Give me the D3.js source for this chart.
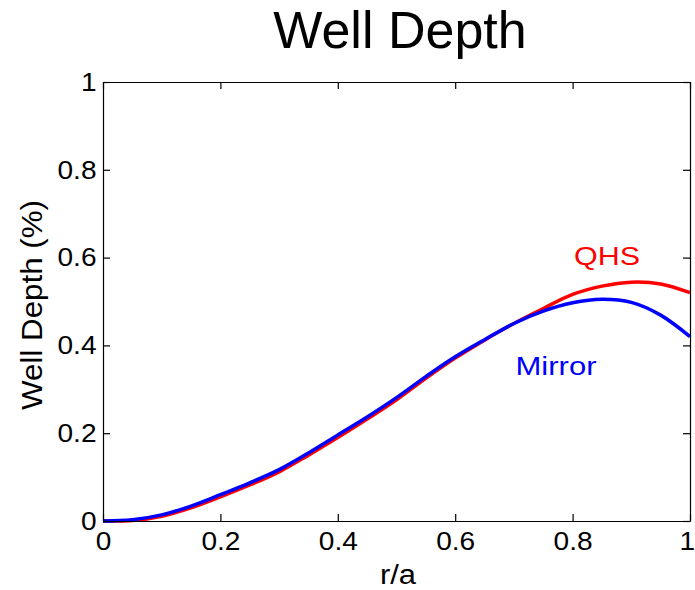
<!DOCTYPE html>
<html>
<head>
<meta charset="utf-8">
<script src="https://cdnjs.cloudflare.com/ajax/libs/d3/7.8.5/d3.min.js"></script>
<style>
  body { margin: 0; background: #fff; }
  svg text { font-family: "Liberation Sans", Arial, sans-serif; fill: #000; }
</style>
</head>
<body>
<div id="chart"></div>
<script>
(function (d3) {
    'use strict';

    // r/a sample points
    var radius = [0, 0.05, 0.1, 0.15, 0.2, 0.25, 0.3, 0.35, 0.4, 0.45, 0.5,
                  0.55, 0.6, 0.65, 0.7, 0.75, 0.8, 0.85, 0.9, 0.95, 1.0];
    var qhsDepth = [0, 0.001, 0.011, 0.03, 0.055, 0.082, 0.112, 0.15, 0.19, 0.232, 0.276,
                    0.325, 0.371, 0.412, 0.45, 0.484, 0.516, 0.535, 0.544, 0.54, 0.52];
    var mirrorDepth = [0, 0.003, 0.014, 0.034, 0.06, 0.087, 0.117, 0.155, 0.196, 0.237, 0.281,
                       0.329, 0.374, 0.413, 0.45, 0.478, 0.497, 0.505, 0.498, 0.469, 0.42];
    var tickValues = [0, 0.2, 0.4, 0.6, 0.8, 1];

    var width = 695,
        height = 590,
        margin = {top: 82, right: 5, bottom: 69, left: 103},
        tickLen = 7;

    var svg = d3.select('#chart').append('svg')
        .attr('width', width)
        .attr('height', height);

    var x = d3.scaleLinear().domain([0, 1]).range([margin.left, width - margin.right]);
    var y = d3.scaleLinear().domain([0, 1]).range([height - margin.bottom, margin.top]);

    var fmt = function (d) { return d === 0 || d === 1 ? String(d) : d.toFixed(1); };

    // lines
    var line = function (vals) {
        return d3.line()
            .x(function (d, i) { return x(radius[i]); })
            .y(function (d) { return y(d); })
            .curve(d3.curveCatmullRom.alpha(0.5))(vals);
    };

    svg.append('path')
        .attr('d', line(qhsDepth))
        .attr('fill', 'none')
        .attr('stroke', '#ff0000')
        .attr('stroke-width', 3.5);

    svg.append('path')
        .attr('d', line(mirrorDepth))
        .attr('fill', 'none')
        .attr('stroke', '#0000ff')
        .attr('stroke-width', 3.5);

    // axes: ticks point inward, box on all four sides
    var gBottom = svg.append('g')
        .attr('transform', 'translate(0,' + y(0) + ')')
        .call(d3.axisBottom(x).tickValues(tickValues).tickFormat(fmt).tickSizeInner(-tickLen).tickSizeOuter(0).tickPadding(11));
    var gTop = svg.append('g')
        .attr('transform', 'translate(0,' + y(1) + ')')
        .call(d3.axisTop(x).tickValues(tickValues).tickFormat('').tickSizeInner(-tickLen).tickSizeOuter(0));
    var gLeft = svg.append('g')
        .attr('transform', 'translate(' + x(0) + ',0)')
        .call(d3.axisLeft(y).tickValues(tickValues).tickFormat(fmt).tickSizeInner(-tickLen).tickSizeOuter(0).tickPadding(6));
    var gRight = svg.append('g')
        .attr('transform', 'translate(' + x(1) + ',0)')
        .call(d3.axisRight(y).tickValues(tickValues).tickFormat('').tickSizeInner(-tickLen).tickSizeOuter(0));

    [gBottom, gTop, gLeft, gRight].forEach(function (g) {
        g.select('.domain').attr('stroke', '#000').attr('stroke-width', 1.2);
        g.selectAll('.tick line').attr('stroke', '#000').attr('stroke-width', 1.2);
        g.selectAll('.tick text')
            .style('font-family', '"Liberation Sans", Arial, sans-serif')
            .style('font-size', '26px')
            .attr('transform', 'scale(1.08,1)');
    });
    // keep the last x label inside the frame
    gBottom.selectAll('.tick text')
        .filter(function (d) { return d === 1; })
        .attr('x', -3);

    // title and axis labels
    svg.append('text')
        .attr('x', 400)
        .attr('y', 48)
        .attr('text-anchor', 'middle')
        .style('font-size', '52px')
        .text('Well Depth');

    svg.append('text')
        .attr('x', 398)
        .attr('y', 584)
        .attr('text-anchor', 'middle')
        .attr('textLength', 36)
        .attr('lengthAdjust', 'spacingAndGlyphs')
        .style('font-size', '27px')
        .text('r/a');

    svg.append('text')
        .attr('transform', 'translate(42,' + 305 + ') rotate(-90)')
        .attr('text-anchor', 'middle')
        .attr('textLength', 210)
        .attr('lengthAdjust', 'spacingAndGlyphs')
        .style('font-size', '30px')
        .text('Well Depth (%)');

    // inline series labels
    svg.append('text')
        .attr('x', 607)
        .attr('y', 265)
        .attr('text-anchor', 'middle')
        .attr('textLength', 66)
        .attr('lengthAdjust', 'spacingAndGlyphs')
        .style('font-size', '26px')
        .style('fill', '#ff0000')
        .text('QHS');

    svg.append('text')
        .attr('x', 556)
        .attr('y', 375)
        .attr('text-anchor', 'middle')
        .attr('textLength', 81)
        .attr('lengthAdjust', 'spacingAndGlyphs')
        .style('font-size', '26px')
        .style('fill', '#0000ff')
        .text('Mirror');

}(window.d3));
</script>
</body>
</html>
